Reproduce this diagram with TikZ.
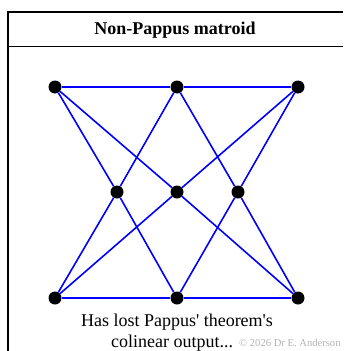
\documentclass[tikz,border=0pt]{standalone}
\usepackage{fontspec}
\setmainfont{Liberation Serif}
\usepackage{xcolor}
\usepackage{tikz}
\usetikzlibrary{
    positioning
}

\begin{document}
\begin{tikzpicture}[
    x=1pt, y=-1pt,
    dot/.style={
        circle,
        fill=black,
        inner sep=0pt,
        minimum size=13pt
    },
    link/.style={
        draw=blue,
        line width=1.6pt
    },
    frame/.style={
        draw=black,
        line width=2.2pt
    },
    label/.style={
        inner sep=0pt,
        anchor=base,
        font=\fontsize{18}{22}\selectfont
    }
]

\useasboundingbox (0,0) rectangle (343,351);

% frame and title
\coordinate (tl) at (8,12);
\coordinate (tr) at (343,12);
\coordinate (bl) at (8,351);
\coordinate (sl) at (8,46);
\coordinate (sr) at (343,46);
\draw[frame] (tr) -- (tl) -- (bl);
\draw[line width=1pt] (sl) -- (sr);
\node[label, font=\fontsize{18}{22}\selectfont\bfseries] (title) at (175,34) {Non-Pappus matroid};

% points
\node[dot] (t1) at (55,87) {};
\node[dot] (t2) at (177,87) {};
\node[dot] (t3) at (298,87) {};
\node[dot] (m1) at (117,192) {};
\node[dot] (m2) at (177,192) {};
\node[dot] (m3) at (238,192) {};
\node[dot] (b1) at (55,298) {};
\node[dot] (b2) at (177,298) {};
\node[dot] (b3) at (298,298) {};

% lines
\draw[link] (t1) -- (t2) -- (t3);
\draw[link] (b1) -- (b2) -- (b3);
\draw[link] (t1) -- (m1) -- (b2);
\draw[link] (t1) -- (m2) -- (b3);
\draw[link] (t2) -- (m1) -- (b1);
\draw[link] (t2) -- (m3) -- (b3);
\draw[link] (t3) -- (m3) -- (b2);
\draw[link] (t3) -- (m2) -- (b1);

% caption
\node[label] (cap1) at (177,326) {Has lost Pappus\textquotesingle{} theorem\textquotesingle{}s};
\node[label, anchor=base west] (cap2) at (111,347) {colinear output...};
\node[inner sep=0pt, anchor=base west, font=\fontsize{10.6}{12}\selectfont, text=black!30] (copy) at (239,346) {\textcopyright{} 2026 Dr E. Anderson};

\end{tikzpicture}
\end{document}
